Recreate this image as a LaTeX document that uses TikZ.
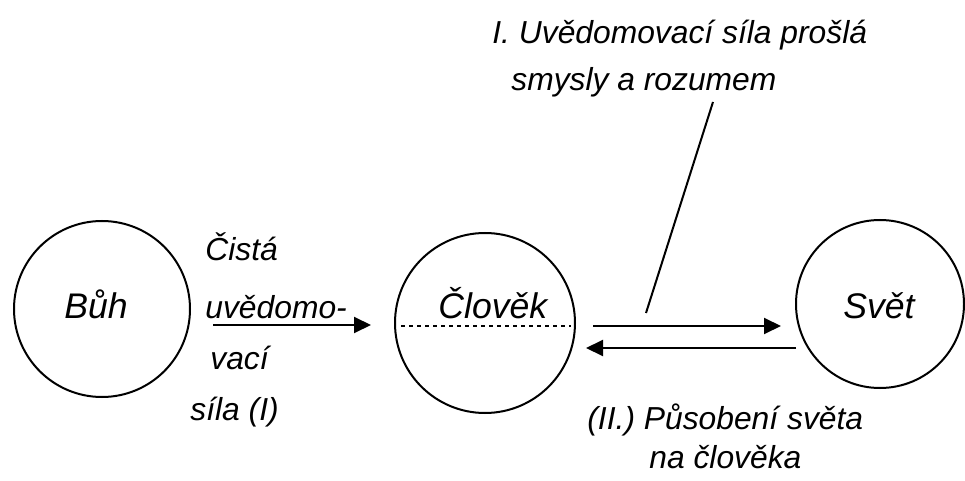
\documentclass[tikz,border=0pt]{standalone}
\usepackage{fontspec}
\setmainfont{Liberation Sans}
\usetikzlibrary{arrows.meta,calc}
\begin{document}
\begin{tikzpicture}[x=0.5pt,y=-0.5pt,
        kruh/.style={circle, draw=black, line width=1pt, inner sep=0pt},
        jmeno/.style={anchor=base west, inner sep=0pt, font=\fontsize{17.8}{20}\selectfont\itshape},
        popis/.style={anchor=base west, inner sep=0pt, font=\fontsize{15.9}{18}\selectfont\itshape},
        sipka/.style={line width=1pt, -{Triangle[length=8.5pt,width=8pt]}}]
        \useasboundingbox (0,0) rectangle (965,481);
        % kruhy
        \node [kruh, minimum size=88pt] (buh) at (102,309) {};
        \node [kruh, minimum size=90pt] (clovek) at (485,323) {};
        \node [kruh, minimum size=84pt] (svet) at (880,304) {};
        \node [jmeno] (tbuh) at (64,318) {Bůh};
        \node [jmeno] (tclovek) at (438,318) {Člověk};
        \node [jmeno] (tsvet) at (843,318) {Svět};
        \draw [dash pattern=on 2pt off 2pt, line width=0.6pt] ($(clovek.west)+(7,3)$) -- ($(clovek.east)+(-5,3)$);
        % popisky
        \node [popis] (cista) at (205,261) {Čistá};
        \node [popis] (uvedomo) at (205,318) {uvědomo-};
        \node [popis] (vaci) at (210,369) {vací};
        \node [popis] (sila) at (190,420) {síla (I)};
        \node [popis] (prosla) at (492,44) {I. Uvědomovací síla prošlá};
        \node [popis] (smysly) at (511,91) {smysly a rozumem};
        \node [popis] (pusobeni) at (587,429) {(II.) Působení světa};
        \node [popis] (nacloveka) at (649,468) {na člověka};
        % sipky
        \draw [sipka] ($(buh.east)+(22,16)$) -- ($(clovek.west)+(-23,2)$);
        \draw [sipka] ($(clovek.east)+(17,3)$) -- ($(svet.west)+(-14,22)$);
        \draw [sipka] ($(svet.west)+(1,44)$) -- ($(clovek.east)+(10,25)$);
        \draw [line width=1pt] ($(smysly.base west)+(202,11)$) -- ($(clovek.east)+(70,-10)$);
\end{tikzpicture}
\end{document}
